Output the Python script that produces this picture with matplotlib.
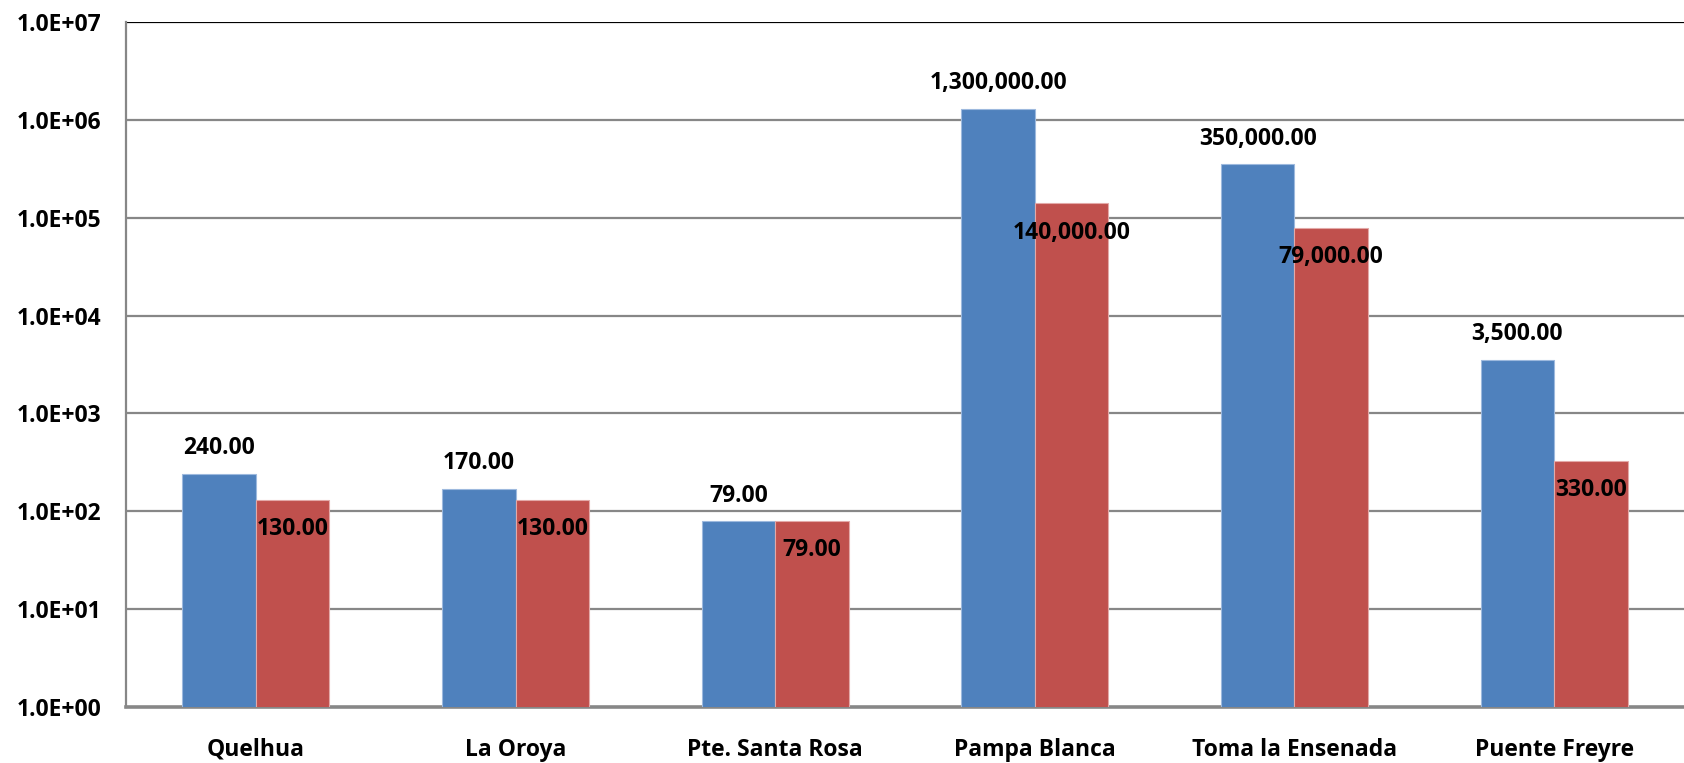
import matplotlib
matplotlib.use("Agg")
import matplotlib.pyplot as plt
import numpy as np

categories = ["Quelhua", "La Oroya", "Pte. Santa Rosa", "Pampa Blanca", "Toma la Ensenada", "Puente Freyre"]
series_a = [240, 170, 79, 1300000, 350000, 3500]
series_b = [130, 130, 79, 140000, 79000, 330]
ytick_vals = [1e0, 1e1, 1e2, 1e3, 1e4, 1e5, 1e6, 1e7]
ytick_labels = ["1.0E+00", "1.0E+01", "1.0E+02", "1.0E+03", "1.0E+04", "1.0E+05", "1.0E+06", "1.0E+07"]

plt.rcParams['font.family'] = ['Open Sans', 'DejaVu Sans']
FS = 16.5

fig = plt.figure(figsize=(16.84, 7.63), dpi=100)
ax = fig.add_axes([126/1684, 1 - 707/763, (1684-126)/1684, (707-22)/763])

x = np.arange(len(categories))
w = 0.283
ba = ax.bar(x - w/2, series_a, width=w, color="#4F81BD", edgecolor="#9DB9DE", linewidth=0.8, zorder=3)
bb = ax.bar(x + w/2, series_b, width=w, color="#C0504D", edgecolor="#E3A9A8", linewidth=0.8, zorder=3)

ax.set_yscale("log")
ax.set_ylim(1, 1e7)
ax.set_xlim(-0.5, len(categories) - 0.5)
ax.set_yticks(ytick_vals)
ax.set_yticklabels(ytick_labels, fontsize=FS, fontweight="bold")
ax.minorticks_off()
ax.yaxis.set_tick_params(length=0, pad=18)
ax.set_xticks(x)
ax.set_xticklabels(categories, fontsize=FS, fontweight="bold")
ax.xaxis.set_tick_params(length=0, pad=22)

for yv in ytick_vals[1:-1]:
    ax.axhline(yv, color="#878787", linewidth=1.6, zorder=1)
ax.axhline(1e7, color="#000000", linewidth=1.6, zorder=1)

for s in ["top", "right"]:
    ax.spines[s].set_visible(False)
ax.spines["left"].set_color("#878787")
ax.spines["left"].set_linewidth(1.6)
ax.spines["bottom"].set_color("#878787")
ax.spines["bottom"].set_linewidth(2.6)

def fmt(v):
    return f"{v:,.2f}"

for rect, v in zip(ba, series_a):
    ax.annotate(fmt(v), (rect.get_x() + rect.get_width()/2, v), xytext=(0, 18.5),
                textcoords="offset points", ha="center", va="center",
                fontsize=FS, fontweight="bold", zorder=5)
for rect, v in zip(bb, series_b):
    ax.annotate(fmt(v), (rect.get_x() + rect.get_width()/2, v), xytext=(0, -21),
                textcoords="offset points", ha="center", va="center",
                fontsize=FS, fontweight="bold", zorder=5)

fig.savefig("out.png", dpi=100)
